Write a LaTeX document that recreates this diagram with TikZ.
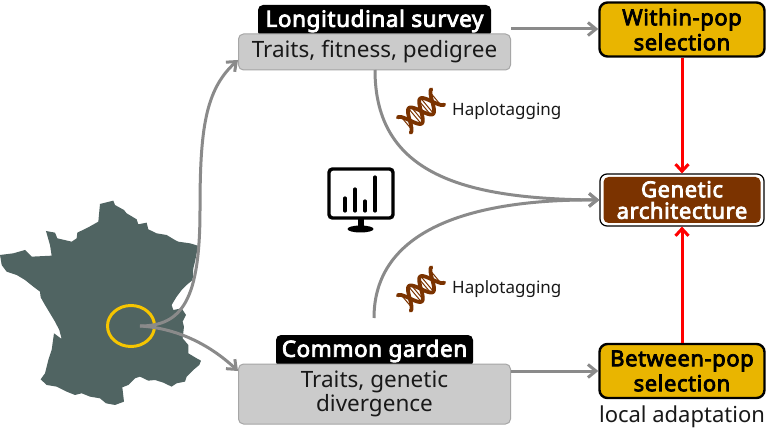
\documentclass[tikz,border=0pt]{standalone}
\usepackage{fontspec}
\setmainfont{Noto Sans}
\newfontfamily\nbold{Noto Sans}[FakeBold=3.5,LetterSpace=2.6]
\usetikzlibrary{arrows.meta,shapes.geometric}
\definecolor{francecol}{HTML}{506462}
\definecolor{goldcol}{HTML}{E9B500}
\definecolor{browncol}{HTML}{7B3300}
\definecolor{linecol}{HTML}{8A8A8A}
\definecolor{boxcol}{HTML}{CBCBCB}
\definecolor{ringcol}{HTML}{F6C500}
\tikzset{
  greyarrow/.style={draw=linecol,line width=3pt,-{Straight Barb[length=8pt,width=13pt,line width=3pt]}},
  redarrow/.style={draw=red,line width=3pt,-{Straight Barb[length=7pt,width=13pt,line width=3pt]}},
  databox/.style={draw=black!35,line width=1pt,fill=boxcol,rounded corners=5pt,minimum width=272pt,inner sep=0pt,align=center,font=\fontsize{22.5}{24.5}\selectfont,text=black!90},
  header/.style={fill=black,rounded corners=5pt,minimum height=32pt,inner sep=0pt,text=white,font=\nbold\fontsize{22.5}{26}\selectfont},
  selbox/.style={draw=black,line width=2.4pt,fill=goldcol,rounded corners=8pt,minimum width=165pt,minimum height=54pt,inner sep=0pt,align=center,text=black,font=\nbold\fontsize{22}{25}\selectfont},
  archbox/.style={draw=black,line width=1.2pt,fill=white,rounded corners=7pt,minimum width=164pt,minimum height=52pt,inner sep=0pt},
  archfill/.style={fill=browncol,rounded corners=5pt,minimum width=157pt,minimum height=46pt,inner sep=0pt,align=center,text=white,font=\nbold\fontsize{22}{21.5}\selectfont},
  hapl/.style={inner sep=0pt,anchor=west,text=black!90,font=\fontsize{17}{20}\selectfont},
  dnaicon/.pic={
    \begin{scope}[rotate=40]
      \foreach \r in {-19,-16,-8,-5,5,8,16,19}
        \draw[browncol,line width=1pt] (\r,{9*sin(\r*270/22)}) -- (\r,{-9*sin(\r*270/22)});
      \draw[browncol,line width=3.8pt,line cap=round] plot[domain=-22:22,samples=60,smooth] (\x,{10*sin(\x*270/22)});
      \draw[browncol,line width=3.8pt,line cap=round] plot[domain=-22:22,samples=60,smooth] (\x,{-10*sin(\x*270/22)});
    \end{scope}
  }
}
\begin{document}
\begin{tikzpicture}[x=1pt,y=-1pt]
\useasboundingbox[fill=white] (0,0) rectangle (768,430);
% France
\begin{scope}[shift={(0,190)},x=.3333pt,y=-.3333pt]
\fill[francecol] (300,42)--(340,32)--(345,45)--(372,60)--(380,70)--(410,88)--(415,103)--(440,98)--(445,118)--(470,130)--(500,135)--(525,150)--(535,155)--(570,160)--(597,168)--(590,190)--(585,215)--(580,235)--(578,270)--(560,285)--(545,300)--(530,320)--(515,345)--(520,360)--(545,355)--(558,375)--(548,395)--(552,410)--(548,445)--(565,465)--(565,490)--(590,505)--(603,512)--(598,525)--(580,540)--(560,560)--(555,575)--(530,580)--(515,590)--(490,578)--(465,570)--(445,572)--(420,560)--(405,565)--(385,585)--(367,592)--(372,635)--(345,645)--(318,640)--(300,625)--(270,620)--(245,610)--(225,615)--(200,605)--(170,590)--(140,585)--(122,568)--(135,550)--(145,510)--(155,480)--(162,430)--(185,447)--(178,420)--(165,395)--(150,370)--(135,345)--(122,322)--(120,305)--(100,290)--(75,270)--(50,255)--(20,245)--(5,225)--(0,195)--(40,190)--(75,180)--(95,200)--(155,197)--(150,165)--(138,123)--(165,128)--(172,145)--(215,155)--(230,145)--(232,128)--(265,112)--(295,95)--cycle;
\end{scope}
\node[ellipse,draw=ringcol,line width=3pt,inner sep=0pt,minimum width=47pt,minimum height=41pt] (ring) at (131,326) {};
% headers and boxes
\node[header,minimum width=233pt] (longhead) at (374.5,21) {Longitudinal survey};
\node[header,minimum width=197pt] (gardenhead) at (374.5,351) {Common garden};
\node[databox,minimum height=36pt] (long) at (374.5,52) {Traits, fitness, pedigree};
\node[databox,minimum height=60pt] (garden) at (374.5,394) {Traits, genetic\\divergence};
\node[selbox] (within) at (682,29.5) {Within-pop\\selection};
\node[selbox] (between) at (682,371) {Between-pop\\selection};
\node[archbox] (archout) at (682,200) {};
\node[archfill] (arch) at (682,200) {Genetic\\architecture};
\node[inner sep=0pt,text=black!90,font=\fontsize{22}{26}\selectfont] (localad) at (682,417) {local adaptation};
% connector ends
\coordinate (origin) at (140,326);
\coordinate (bendup) at (200,210);
\coordinate (longin) at (238,60);
\coordinate (gardenin) at (238,371);
\coordinate (longout) at (511,29);
\coordinate (longdown) at (375,70);
\coordinate (gardenup) at (374,318);
\coordinate (gardenout) at (511,371);
% connectors
\draw[greyarrow] (origin) .. controls (182,326) and (200,300) .. (bendup) .. controls (200,130) and (205,90) .. (longin);
\draw[greyarrow] (origin) .. controls (175,328) and (208,343) .. (gardenin);
\draw[greyarrow] (longout) -- (within.west |- longout);
\draw[greyarrow] (gardenout) -- (between.west);
\draw[greyarrow] (longdown) .. controls (375,175) and (465,199) .. (archout.west);
\draw[greyarrow] (gardenup) .. controls (374,230) and (470,199) .. (archout.west);
\draw[redarrow] (within.south) -- (archout.north);
\draw[redarrow] (between.north) -- (archout.south);
% DNA icons and labels
\pic at (421,111) {dnaicon};
\pic at (421,289) {dnaicon};
\node[hapl] (haptop) at (452,111.5) {Haplotagging};
\node[hapl] (hapbot) at (452,289.5) {Haplotagging};
% monitor icon
\draw[black,line width=3.4pt,rounded corners=3.5pt] (329,169) rectangle (393,218);
\fill[black] (357.5,218) rectangle (363.5,227);
\fill[black] (360.5,229) ellipse [x radius=13,y radius=3.5];
\foreach \bx/\by in {345/198,355/189,365/201,375/177}
  \draw[black,line width=3.2pt,line cap=round] (\bx,211) -- (\bx,\by);
\end{tikzpicture}
\end{document}
